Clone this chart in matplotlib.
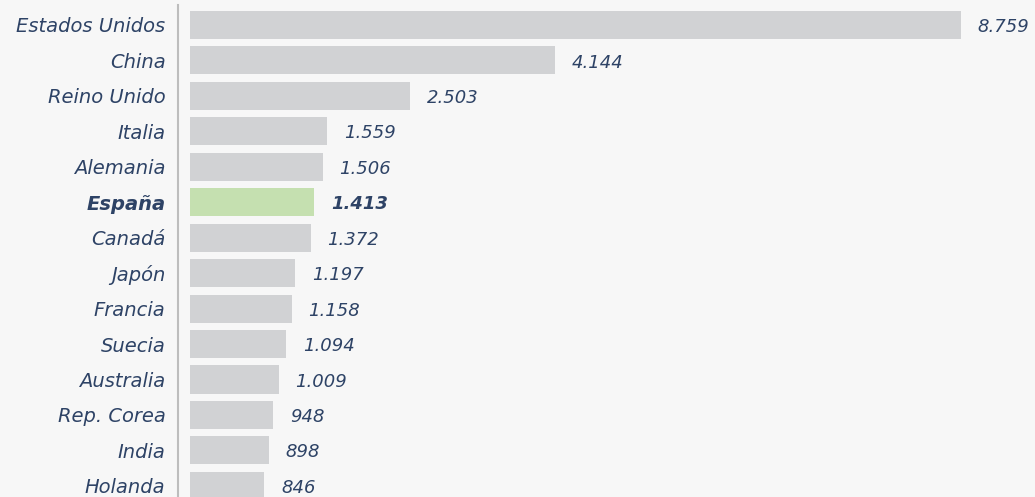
import matplotlib
matplotlib.use("Agg")
import matplotlib.pyplot as plt

countries = ["Estados Unidos", "China", "Reino Unido", "Italia", "Alemania",
             "España", "Canadá", "Japón", "Francia", "Suecia", "Australia",
             "Rep. Corea", "India", "Holanda"]
values = [8759, 4144, 2503, 1559, 1506, 1413, 1372, 1197, 1158, 1094,
          1009, 948, 898, 846]
highlight = "España"

BG = "#f7f7f7"
BAR = "#d1d2d4"
BAR_HL = "#c5e0b0"
TEXT = "#2e4366"
FONT = ["DejaVu Sans"]


def fmt(v):
    return "{:,}".format(v).replace(",", ".")


W, H = 1035, 497
fig = plt.figure(figsize=(W / 100, H / 100), dpi=100, facecolor=BG)
ax_left = 178
ax = fig.add_axes((ax_left / W, 0, (W - ax_left) / W, 1))
ax.set_facecolor(BG)

px_per_unit = (961 - 190) / 8759
x0 = -(190 - ax_left) / px_per_unit
ax.set_xlim(x0, x0 + (W - ax_left) / px_per_unit)
pitch = 35.45
ax.set_ylim((H - 25) / pitch, -25 / pitch)

ys = list(range(len(countries)))
colors = [BAR_HL if c == highlight else BAR for c in countries]
ax.barh(ys, values, height=0.79, color=colors, left=0)

for y, v, c in zip(ys, values, countries):
    bold = c == highlight
    ax.annotate(fmt(v), (v, y), xytext=(12, -1.5), textcoords="offset points",
                ha="left", va="center", fontsize=13, color=TEXT,
                family=FONT, style="italic",
                weight="bold" if bold else "normal")

ax.set_yticks(ys)
ax.set_yticklabels(countries)
for lbl, c in zip(ax.get_yticklabels(), countries):
    lbl.set_family(FONT)
    lbl.set_style("italic")
    lbl.set_fontsize(14)
    lbl.set_color(TEXT)
    if c == highlight:
        lbl.set_weight("bold")
ax.tick_params(axis="y", length=0, pad=9)
ax.set_xticks([])

for s in ["top", "right", "bottom"]:
    ax.spines[s].set_visible(False)
ax.spines["left"].set_color("#bdbdbd")
ax.spines["left"].set_linewidth(1.5)
ax.spines["left"].set_bounds((H - 25) / pitch, -20 / pitch)

fig.savefig("out.png", dpi=100, facecolor=BG)
